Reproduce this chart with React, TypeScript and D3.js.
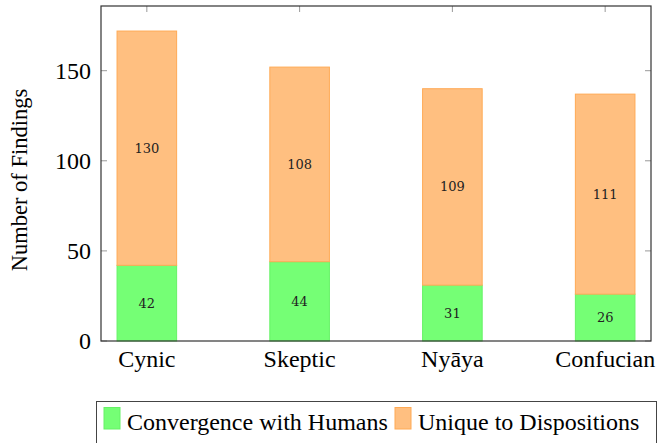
import React, { useEffect, useRef } from "react";
import * as d3 from "d3";

const categories = ["Cynic", "Skeptic", "Nyāya", "Confucian"];
const convergence = [42, 44, 31, 26];
const unique = [130, 108, 109, 111];
const seriesNames = ["Convergence with Humans", "Unique to Dispositions"];
const yTicks = [0, 50, 100, 150];

const greenFill = "#75ff75";
const greenStroke = "#66f266";
const orangeFill = "#ffbf80";
const orangeStroke = "#ffaa55";
const serif = "'Liberation Serif', 'Times New Roman', Times, 'DejaVu Serif', serif";

const App = () => {
  const svgRef = useRef<SVGSVGElement>(null);

  useEffect(() => {
    const svg = d3.select(svgRef.current);
    svg.selectAll("*").remove();

    const left = 101;
    const right = 651;
    const top = 6;
    const bottom = 341;

    const x = d3.scaleLinear().domain([-0.3, 3.3]).range([left, right]);
    const y = d3.scaleLinear().domain([0, 185.9]).range([bottom, top]);
    const barW = x(0.39) - x(0);

    const data = categories.map((c, i) => ({
      name: c,
      i,
      a: convergence[i],
      b: unique[i],
    }));

    // ticks inside the frame
    const tickColor = "#999";
    yTicks.forEach((t) => {
      svg.append("line").attr("x1", left).attr("x2", left + 6)
        .attr("y1", y(t)).attr("y2", y(t)).attr("stroke", tickColor);
      svg.append("line").attr("x1", right - 6).attr("x2", right)
        .attr("y1", y(t)).attr("y2", y(t)).attr("stroke", tickColor);
      svg.append("text")
        .attr("x", left - 10).attr("y", y(t)).attr("dy", "0.33em")
        .attr("text-anchor", "end")
        .style("font-family", serif)
        .attr("font-size", 24)
        .text(t);
    });
    data.forEach((d) => {
      svg.append("line").attr("x1", x(d.i)).attr("x2", x(d.i))
        .attr("y1", top).attr("y2", top + 6).attr("stroke", tickColor);
    });

    // stacked bars
    const g = svg.append("g");
    g.selectAll(".conv")
      .data(data)
      .enter()
      .append("rect")
      .attr("x", (d) => x(d.i) - barW / 2)
      .attr("y", (d) => y(d.a))
      .attr("width", barW)
      .attr("height", (d) => y(0) - y(d.a))
      .attr("fill", greenFill)
      .attr("stroke", greenStroke)
      .attr("stroke-width", 1);

    g.selectAll(".uniq")
      .data(data)
      .enter()
      .append("rect")
      .attr("x", (d) => x(d.i) - barW / 2)
      .attr("y", (d) => y(d.a + d.b))
      .attr("width", barW)
      .attr("height", (d) => y(d.a) - y(d.a + d.b))
      .attr("fill", orangeFill)
      .attr("stroke", orangeStroke)
      .attr("stroke-width", 1);

    // value labels
    const labelFont = "'DejaVu Serif', serif";
    g.selectAll(".lblA")
      .data(data)
      .enter()
      .append("text")
      .attr("x", (d) => x(d.i))
      .attr("y", (d) => y(d.a / 2))
      .attr("dy", "0.35em")
      .attr("text-anchor", "middle")
      .style("font-family", labelFont)
      .attr("font-size", 13)
      .attr("fill", "#222")
      .text((d) => d.a);

    g.selectAll(".lblB")
      .data(data)
      .enter()
      .append("text")
      .attr("x", (d) => x(d.i))
      .attr("y", (d) => y(d.a + d.b / 2))
      .attr("dy", "0.35em")
      .attr("text-anchor", "middle")
      .style("font-family", labelFont)
      .attr("font-size", 13)
      .attr("fill", "#222")
      .text((d) => d.b);

    // frame
    svg.append("rect")
      .attr("x", left).attr("y", top)
      .attr("width", right - left).attr("height", bottom - top)
      .attr("fill", "none").attr("stroke", "#333").attr("stroke-width", 1.2);

    // category labels
    data.forEach((d) => {
      svg.append("text")
        .attr("x", x(d.i)).attr("y", bottom + 26)
        .attr("text-anchor", "middle")
        .style("font-family", serif)
        .attr("font-size", 24)
        .text(d.name);
    });

    // y label
    svg.append("text")
      .attr("transform", `translate(27, 180) rotate(-90)`)
      .attr("text-anchor", "middle")
      .style("font-family", serif)
      .attr("font-size", 22.5)
      .text("Number of Findings");

    // legend
    const lg = svg.append("g");
    lg.append("rect")
      .attr("x", 96.5).attr("y", 401.5).attr("width", 560).attr("height", 50)
      .attr("fill", "white").attr("stroke", "#444").attr("stroke-width", 1);
    const items = [
      { name: seriesNames[0], fill: greenFill, stroke: greenStroke, sx: 104, tx: 127 },
      { name: seriesNames[1], fill: orangeFill, stroke: orangeStroke, sx: 395, tx: 418 },
    ];
    items.forEach((it) => {
      lg.append("rect")
        .attr("x", it.sx).attr("y", 407.5).attr("width", 16).attr("height", 21.5)
        .attr("fill", it.fill).attr("stroke", it.stroke);
      lg.append("text")
        .attr("x", it.tx).attr("y", 430)
        .style("font-family", serif)
        .attr("font-size", 24)
        .text(it.name);
    });
  }, []);

  return (
    <svg
      ref={svgRef}
      width={667}
      height={443}
      style={{ position: "absolute", left: 0, top: 0 }}
    />
  );
};

export default App;
